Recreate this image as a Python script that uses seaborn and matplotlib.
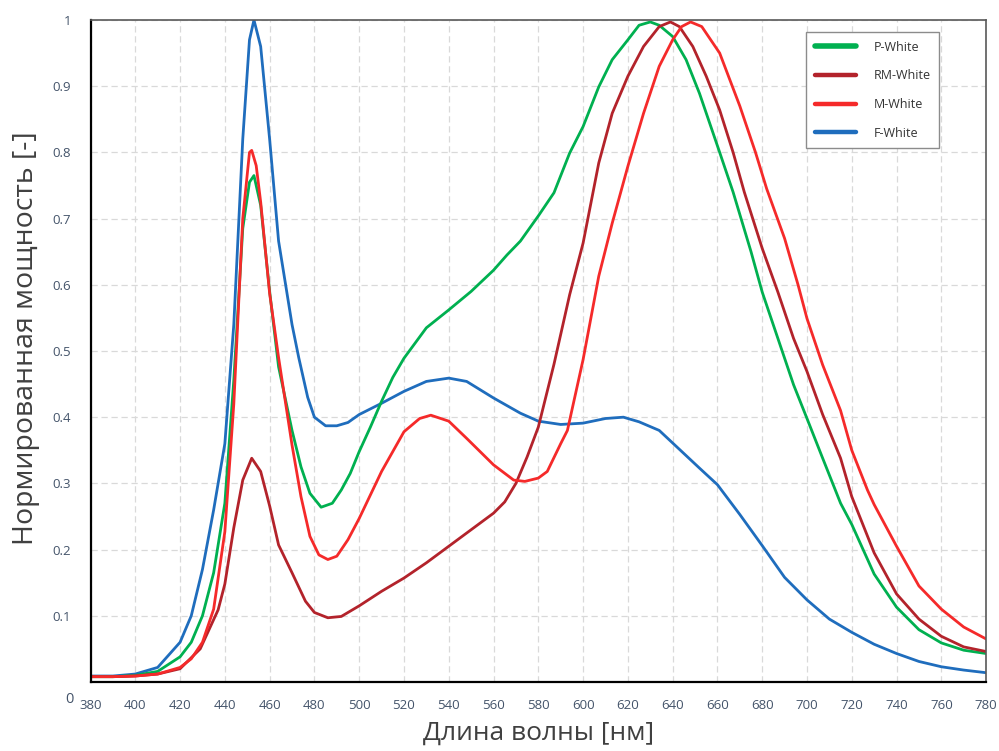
import pandas as pd
import matplotlib
matplotlib.use("Agg")
import matplotlib.pyplot as plt
import seaborn as sns
from matplotlib.lines import Line2D

# --- spectra (wavelength nm, normalised power) ---
p_white_wl = [380, 390, 400, 410, 420, 425, 430, 435, 440, 444, 448, 451, 453, 456, 460, 464,
              470, 474, 478, 483, 488, 492, 496, 500, 505, 510, 515, 520, 530, 540, 550, 560,
              566, 572, 580, 587, 594, 600, 607, 613, 620, 625, 630, 634, 640, 646, 652, 661,
              667, 675, 680, 687, 694, 700, 707, 715, 720, 730, 740, 750, 760, 770, 780]
p_white = [0.008, 0.008, 0.010, 0.016, 0.038, 0.060, 0.100, 0.165, 0.270, 0.456, 0.685, 0.755,
           0.765, 0.720, 0.590, 0.476, 0.380, 0.325, 0.285, 0.264, 0.270, 0.290, 0.315, 0.348,
           0.385, 0.424, 0.460, 0.489, 0.535, 0.562, 0.590, 0.622, 0.645, 0.666, 0.704, 0.739,
           0.799, 0.839, 0.899, 0.940, 0.970, 0.992, 0.997, 0.992, 0.975, 0.940, 0.889, 0.800,
           0.740, 0.650, 0.589, 0.519, 0.449, 0.398, 0.338, 0.270, 0.238, 0.163, 0.113, 0.079,
           0.059, 0.048, 0.043]

rm_white_wl = [380, 390, 400, 410, 420, 429, 437, 440, 444, 448, 452, 456, 460, 464, 470, 476,
               480, 486, 492, 500, 510, 520, 530, 540, 550, 560, 565, 570, 575, 580, 587, 594,
               600, 607, 613, 620, 627, 634, 639, 643, 649, 655, 661, 667, 672, 680, 687, 694,
               700, 707, 715, 720, 730, 740, 750, 760, 770, 780]
rm_white = [0.008, 0.008, 0.009, 0.012, 0.020, 0.050, 0.109, 0.148, 0.233, 0.305, 0.338, 0.318,
            0.266, 0.207, 0.165, 0.122, 0.105, 0.097, 0.099, 0.115, 0.137, 0.157, 0.180, 0.205,
            0.230, 0.255, 0.272, 0.300, 0.340, 0.385, 0.480, 0.585, 0.663, 0.784, 0.859, 0.915,
            0.960, 0.990, 0.997, 0.990, 0.960, 0.915, 0.864, 0.800, 0.740, 0.655, 0.589, 0.519,
            0.469, 0.404, 0.338, 0.280, 0.195, 0.133, 0.095, 0.069, 0.053, 0.046]

m_white_wl = [380, 390, 400, 410, 420, 425, 430, 435, 440, 444, 448, 451, 452, 454, 456, 460,
              464, 470, 474, 478, 482, 486, 490, 495, 500, 510, 520, 527, 532, 540, 548, 560,
              569, 574, 580, 584, 590, 593, 600, 607, 613, 620, 627, 634, 640, 644, 648, 653,
              661, 670, 677, 682, 690, 696, 700, 707, 715, 720, 727, 730, 740, 750, 760, 770, 780]
m_white = [0.008, 0.008, 0.009, 0.012, 0.022, 0.035, 0.060, 0.110, 0.227, 0.420, 0.700, 0.800,
           0.803, 0.780, 0.725, 0.587, 0.490, 0.358, 0.280, 0.220, 0.192, 0.185, 0.190, 0.215,
           0.247, 0.318, 0.378, 0.398, 0.403, 0.394, 0.368, 0.328, 0.305, 0.303, 0.308, 0.318,
           0.360, 0.380, 0.487, 0.613, 0.693, 0.779, 0.859, 0.930, 0.970, 0.990, 0.997, 0.990,
           0.950, 0.870, 0.800, 0.745, 0.670, 0.600, 0.549, 0.479, 0.410, 0.350, 0.290, 0.268,
           0.205, 0.145, 0.110, 0.083, 0.065]

f_white_wl = [380, 390, 400, 410, 420, 425, 430, 435, 440, 444, 448, 451, 453, 456, 460, 464,
              470, 473, 477, 480, 485, 490, 495, 500, 510, 520, 530, 540, 548, 560, 572, 580,
              590, 600, 610, 618, 625, 634, 640, 652, 660, 670, 680, 690, 700, 710, 720, 730,
              740, 750, 760, 770, 780]
f_white = [0.009, 0.009, 0.012, 0.022, 0.060, 0.100, 0.170, 0.260, 0.360, 0.540, 0.820, 0.970,
           1.000, 0.960, 0.820, 0.666, 0.540, 0.490, 0.430, 0.400, 0.387, 0.387, 0.392, 0.404,
           0.421, 0.439, 0.454, 0.459, 0.454, 0.429, 0.406, 0.394, 0.389, 0.391, 0.398, 0.400,
           0.393, 0.380, 0.361, 0.323, 0.298, 0.253, 0.206, 0.158, 0.124, 0.095, 0.075, 0.057,
           0.043, 0.031, 0.023, 0.018, 0.014]

series_names = ["P-White", "RM-White", "M-White", "F-White"]
series_colors = ["#00b050", "#b3232b", "#f52a2a", "#1f6dbd"]
x_ticks = list(range(380, 781, 20))
y_ticks = [0.1, 0.2, 0.3, 0.4, 0.5, 0.6, 0.7, 0.8, 0.9, 1.0]
y_tick_labels = ["0.1", "0.2", "0.3", "0.4", "0.5", "0.6", "0.7", "0.8", "0.9", "1"]

frames = []
for name, wl, val in zip(series_names,
                         [p_white_wl, rm_white_wl, m_white_wl, f_white_wl],
                         [p_white, rm_white, m_white, f_white]):
    frames.append(pd.DataFrame({"wl": wl, "power": val, "series": name}))
df = pd.concat(frames, ignore_index=True)

sns.set_style("white")
plt.rcParams["font.family"] = ["Open Sans", "DejaVu Sans"]

fig = plt.figure(figsize=(9.99, 7.51), dpi=100)
ax = fig.add_axes([0.0906, 0.0919, 0.8965, 0.8815])

# blue first so the others sit on top, like the reference
draw_order = ["F-White", "P-White", "RM-White", "M-White"]
palette = dict(zip(series_names, series_colors))
for name in draw_order:
    sns.lineplot(data=df[df["series"] == name], x="wl", y="power", color=palette[name],
                 linewidth=2.0, estimator=None, sort=False, ax=ax, legend=False)

ax.set_xlim(380, 780)
ax.set_ylim(0, 1)
ax.set_xticks(x_ticks)
ax.set_yticks(y_ticks)
ax.set_yticklabels(y_tick_labels)
ax.grid(True, color="#d9d9d9", linestyle=(0, (5, 3)), linewidth=0.9)
ax.set_axisbelow(True)

tick_color = "#44546a"
ax.tick_params(axis="both", direction="out", length=4, width=0.8, color="#8c8c8c",
               labelsize=9.5, labelcolor=tick_color)
ax.tick_params(axis="x", pad=8)
ax.tick_params(axis="y", pad=10)
ax.text(-0.023, -0.027, "0", transform=ax.transAxes, ha="center", va="center",
        fontsize=10.5, color=tick_color)

for side in ["left", "bottom"]:
    ax.spines[side].set_color("black")
    ax.spines[side].set_linewidth(1.6)
for side in ["top", "right"]:
    ax.spines[side].set_color("#595959")
    ax.spines[side].set_linewidth(1.2)

ax.set_xlabel("Длина волны [нм]", fontsize=19, color="#404040")
ax.set_ylabel("Нормированная мощность [-]", fontsize=20.5, color="#404040")
ax.xaxis.set_label_coords(0.5, -0.058)
ax.yaxis.set_label_coords(-0.056, 0.52)

handles = [Line2D([0], [0], color=c, linewidth=4 if n == "P-White" else 3.2,
                  solid_capstyle="round") for n, c in zip(series_names, series_colors)]
leg = ax.legend(handles, series_names, loc="upper left", bbox_to_anchor=(0.799, 0.982),
                frameon=True, fancybox=False, edgecolor="#8c8c8c", framealpha=1,
                fontsize=9, handlelength=3.3, handletextpad=1.4, labelspacing=1.25,
                borderpad=0.7, borderaxespad=0)
leg.get_frame().set_linewidth(1.0)
for t in leg.get_texts():
    t.set_color("#333333")

fig.savefig("out.png", dpi=100)
plt.close(fig)
